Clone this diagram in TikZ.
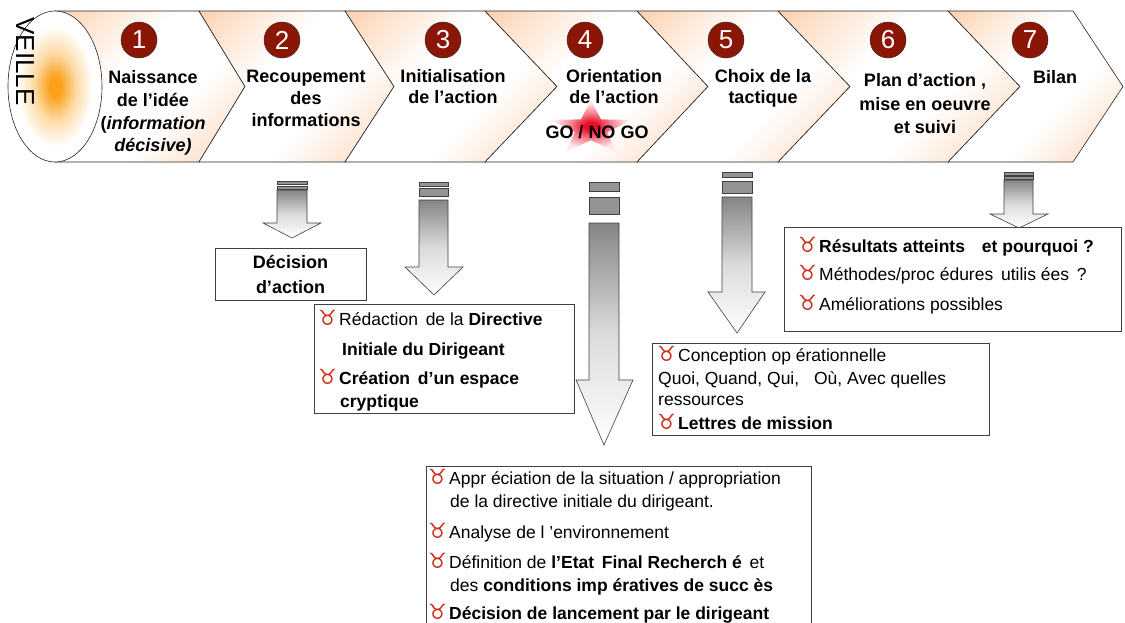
\documentclass[tikz,border=0pt]{standalone}
\usepackage{fontspec}
\setmainfont{Liberation Sans}
\newfontfamily\symfont{DejaVu Sans}
\usetikzlibrary{shapes.geometric}
\definecolor{chevor}{RGB}{250,176,118}
\colorlet{chevmid}{chevor!35!white}
\definecolor{veilleor}{RGB}{250,160,25}
\colorlet{veillemid}{veilleor!40!white}
\definecolor{numred}{RGB}{140,22,5}
\definecolor{bulred}{RGB}{205,45,25}
\definecolor{starred}{RGB}{235,15,40}
\colorlet{starmid}{starred!55!white}
\colorlet{starpale}{starred!10!white}
\pgfdeclarehorizontalshading{chevshade}{100bp}{color(0bp)=(chevor); color(24bp)=(chevmid); color(40bp)=(white); color(60bp)=(white); color(76bp)=(chevmid); color(100bp)=(chevor)}
\pgfdeclareradialshading{veilleshade}{\pgfpoint{0bp}{0bp}}{color(0bp)=(veilleor); color(3bp)=(veilleor); color(11bp)=(veillemid); color(20bp)=(white); color(50bp)=(white)}
\pgfdeclareradialshading{starshade}{\pgfpoint{0bp}{0bp}}{color(0bp)=(starred); color(4bp)=(starred); color(12bp)=(starmid); color(22bp)=(starpale); color(50bp)=(white)}
\newcommand\taurusbul{\makebox[21pt][l]{\symfont\color{bulred}\fontsize{21}{21}\selectfont ♉}}
\begin{document}
\begin{tikzpicture}[x=1pt,y=-1pt,
  chev/.style={draw=black!85, line width=0.6pt, shading=chevshade, shading angle=-45},
  num/.style={circle, draw=black!80, line width=0.5pt, fill=numred, text=white, minimum size=36pt, inner sep=0pt, font=\fontsize{26}{26}\selectfont},
  chevlbl/.style={align=center, inner sep=0pt, font=\bfseries\fontsize{18}{21.5}\selectfont},
  box/.style={draw=black!75, line width=0.9pt, fill=white, inner sep=0pt},
  bline/.style={anchor=base west, inner sep=0pt, font=\fontsize{17.5}{17.5}\selectfont},
  bar/.style={draw=black!75, line width=0.6pt, fill=black!42},
  darrow/.style={draw=black!75, line width=0.6pt, top color=black!48, bottom color=white, middle color=black!14},
]
\useasboundingbox (0,0) rectangle (1125,622);
\fill[white] (0,0) rectangle (1125,622);

% chevron band
\foreach \lt/\lp/\rt/\rp in {55/100/199/245, 199/245/345/394, 345/394/485/557, 485/557/637/708, 637/708/778/850, 778/850/948/1020, 948/1020/1073/1123}
  \path[chev] (\lt,11) -- (\rt,11) -- (\rp,86.5) -- (\rt,162) -- (\lt,162) -- (\lp,86.5) -- cycle;

% veille
\node[ellipse, draw=black!85, line width=0.6pt, shading=veilleshade, minimum width=94pt, minimum height=151pt, inner sep=0pt] (veille) at (55,86.5) {};
\node[rotate=-90, inner sep=0pt, font=\fontsize{26}{26}\selectfont] (veilletxt) at (25,61.5) {VEILLE};

% numbers
\node[num] (n1) at (139,40) {1};
\node[num] (n2) at (282,40) {2};
\node[num] (n3) at (443,40) {3};
\node[num] (n4) at (585,40) {4};
\node[num] (n5) at (726,40) {5};
\node[num] (n6) at (888,40) {6};
\node[num] (n7) at (1030,40) {7};

% chevron labels
\node[chevlbl, font=\bfseries\fontsize{18}{22.7}\selectfont] (c1) at (153,113) {Naissance\\de l’idée\\(\textit{information}\\\textit{décisive)}};
\node[chevlbl, font=\bfseries\fontsize{18}{22}\selectfont] (c2) at (306,98) {Recoupement\\des\\informations};
\node[chevlbl] (c3) at (453,86.6) {Initialisation\\de l’action};
\node[chevlbl] (c4) at (614,86.6) {Orientation\\de l’action};
\node[chevlbl] (c5) at (763,88.4) {Choix de la\\tactique};
\node[chevlbl, font=\bfseries\fontsize{18}{23.5}\selectfont] (c6) at (925,103.6) {Plan d’action ,\\mise en oeuvre\\et suivi};
\node[chevlbl] (c7) at (1055,77) {Bilan};

% star
\begin{scope}[shift={(591,128.7)}]
\path[shading=starshade] (-90:43 and 28.7) -- (-54:17 and 11.5) -- (-18:43 and 28.7) -- (18:17 and 11.5) -- (54:43 and 28.7) -- (90:17 and 11.5) -- (126:43 and 28.7) -- (162:17 and 11.5) -- (198:43 and 28.7) -- (234:17 and 11.5) -- cycle;
\end{scope}
\node[chevlbl] (go) at (597,132) {GO / NO GO};

% down arrows
\draw[bar] (277,181.5) rectangle (307,184.5);
\draw[bar] (277,186) rectangle (307,189);
\draw[darrow] (277,190) -- (307,190) -- (307,223) -- (321,223) -- (292,238) -- (263,223) -- (277,223) -- cycle;

\draw[bar] (419,182) rectangle (448,186);
\draw[bar] (419,188) rectangle (448,196);
\draw[darrow] (419,200) -- (448,200) -- (448,267) -- (463,267) -- (434,295) -- (405,267) -- (419,267) -- cycle;

\draw[bar] (589,182) rectangle (619,191);
\draw[bar] (589,197) rectangle (619,214);
\draw[darrow] (589,223) -- (619,223) -- (619,380) -- (633,380) -- (604,445) -- (576,380) -- (589,380) -- cycle;

\draw[bar] (722,172) rectangle (752,177);
\draw[bar] (722,181) rectangle (752,193);
\draw[darrow] (722,197) -- (752,197) -- (752,292) -- (765,292) -- (737,333) -- (708,292) -- (722,292) -- cycle;

\draw[bar] (1004,172) rectangle (1033,175);
\draw[bar] (1004,176.5) rectangle (1033,179.5);
\draw[darrow] (1004,180) -- (1033,180) -- (1033,214) -- (1048,214) -- (1019,228) -- (990,214) -- (1004,214) -- cycle;

% box 1
\node[box, minimum width=151pt, minimum height=52pt, align=center, font=\bfseries\fontsize{18}{25}\selectfont] (bx1) at (290.5,274) {Décision\\d’action};

% box 2
\node[box, anchor=north west, minimum width=260pt, minimum height=109pt] (bx2) at (314,304) {};
\node[bline] (b2a) at (318,325) {\taurusbul Rédaction\, de la \textbf{Directive}};
\node[bline] (b2b) at (342,355) {\textbf{Initiale du Dirigeant}};
\node[bline] (b2c) at (318,384) {\taurusbul\textbf{Création\, d’un espace}};
\node[bline] (b2d) at (340,407) {\textbf{cryptique}};

% box 3
\node[box, anchor=north west, minimum width=337pt, minimum height=92pt] (bx3) at (652,343) {};
\node[bline] (b3a) at (657,361) {\taurusbul Conception op érationnelle};
\node[bline] (b3b) at (658,384) {Quoi, Quand, Qui,\hspace{10pt} Où, Avec quelles};
\node[bline] (b3c) at (658,405) {ressources};
\node[bline] (b3d) at (657,429) {\taurusbul\textbf{Lettres de mission}};

% box 4
\node[box, anchor=north west, minimum width=337pt, minimum height=104pt] (bx4) at (784,227) {};
\node[bline] (b4a) at (798,252) {\taurusbul\textbf{Résultats atteints\hspace{12pt} et pourquoi ?}};
\node[bline] (b4b) at (798,280) {\taurusbul Méthodes/proc édures\, utilis ées\, ?};
\node[bline] (b4c) at (798,310) {\taurusbul Améliorations possibles};

% box 5
\node[box, anchor=north west, minimum width=385pt, minimum height=160pt] (bx5) at (426,466) {};
\node[bline] (b5a) at (428,484) {\taurusbul Appr éciation de la situation / appropriation};
\node[bline] (b5b) at (450,507) {de la directive initiale du dirigeant.};
\node[bline] (b5c) at (428,538) {\taurusbul Analyse de l ’environnement};
\node[bline] (b5d) at (428,568) {\taurusbul Définition de \textbf{l’Etat\, Final Recherch é}\, et};
\node[bline] (b5e) at (450,591) {des \textbf{conditions imp ératives de succ ès}};
\node[bline] (b5f) at (428,619) {\taurusbul\textbf{Décision de lancement par le dirigeant}};
\end{tikzpicture}
\end{document}
